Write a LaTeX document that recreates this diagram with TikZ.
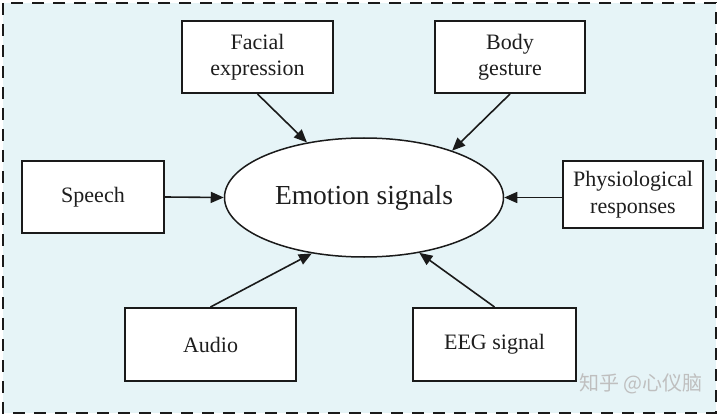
\documentclass[tikz,border=0pt]{standalone}
\usepackage{fontspec}
\setmainfont{Liberation Serif}
\newfontfamily\cjkfont{Noto Sans CJK SC}
\usetikzlibrary{arrows.meta,shapes.geometric}
\definecolor{bgblue}{HTML}{E6F4F7}
\definecolor{inkc}{HTML}{1A1A1A}
\definecolor{txtc}{HTML}{1E1E1E}
\tikzset{
  srcbox/.style={draw=inkc, line width=2pt, fill=white, rectangle, align=center,
    text=txtc, font=\fontsize{22}{26.5}\selectfont, inner sep=0pt},
  arr/.style={draw=inkc, line width=1.6pt, -{Triangle[length=13pt,width=11pt]}},
}
\begin{document}
\begin{tikzpicture}[x=1pt,y=-1pt]
\useasboundingbox (0,0) rectangle (720,417);
\fill[white] (0,0) rectangle (720,417);
\draw[fill=bgblue, draw=inkc, line width=2pt, dash pattern=on 12pt off 9pt] (3,3) rectangle (716,413);

\node[draw=inkc, line width=1.5pt, fill=white, ellipse, minimum width=279pt, minimum height=119pt,
  inner sep=0pt, text=txtc, font=\fontsize{27.5}{32}\selectfont] (emo) at (364,197.5) {Emotion signals};

\node[srcbox, minimum width=151pt, minimum height=72pt] (facial) at (257.5,57) {\raisebox{-2pt}{Facial}\\\raisebox{-2pt}{expression}};
\node[srcbox, minimum width=150pt, minimum height=72pt] (body) at (510,57) {\raisebox{-2pt}{Body}\\\raisebox{-2pt}{gesture}};
\node[srcbox, minimum width=142pt, minimum height=72pt] (speech) at (93,197) {Speech};
\node[srcbox, minimum width=140pt, minimum height=67pt] (physio) at (633,194.5) {Physiological\\responses};
\node[srcbox, minimum width=171pt, minimum height=73pt] (audio) at (210.5,344.5) {Audio};
\node[srcbox, minimum width=163pt, minimum height=73pt] (eeg) at (494.5,344.5) {\raisebox{-1pt}{EEG signal}};

\draw[arr] (facial.south) -- (emo.136);
\draw[arr] (body.south) -- (emo.28);
\draw[arr] (speech.east) -- (emo.west);
\draw[arr] (physio.west |- emo.east) -- (emo.east);
\draw[arr] (audio.north) -- (emo.-133);
\draw[arr] (eeg.north) -- (emo.-45);

\node[text=gray!50, font=\cjkfont\fontsize{20}{24}\selectfont, anchor=east, inner sep=0pt] (wm) at (703,384) {知乎 @心仪脑};
\end{tikzpicture}
\end{document}
